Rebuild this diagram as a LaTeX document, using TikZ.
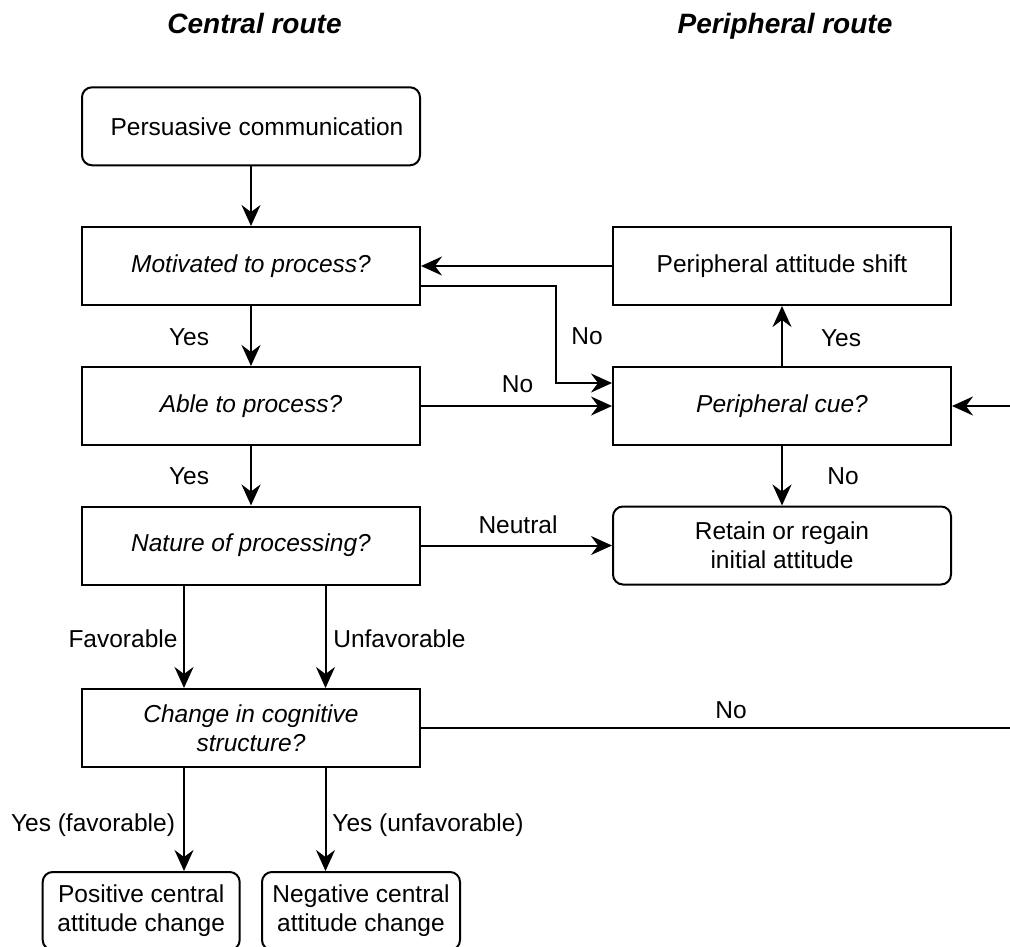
\documentclass[tikz,border=0pt]{standalone}
\usepackage{fontspec}
\setmainfont{Liberation Sans}
\usetikzlibrary{arrows.meta,calc}
\begin{document}
\begin{tikzpicture}[x=1pt,y=-1pt,
  every node/.style={font=\fontsize{24.5}{29}\selectfont},
  box/.style={draw, line width=2pt, minimum width=338pt, minimum height=78pt, inner sep=0pt, align=center},
  roundbox/.style={box, rounded corners=10pt},
  question/.style={box, font=\fontsize{24.5}{28.5}\selectfont\itshape},
  heading/.style={font=\fontsize{28}{32}\selectfont\bfseries\itshape, anchor=base, inner sep=0pt},
  lbl/.style={anchor=base, inner sep=0pt},
  link/.style={line width=2pt},
  arr/.style={link, -{Stealth[length=21pt,width=19pt,inset=7pt]}}
]
\useasboundingbox (0,0) rectangle (1010,947);
\clip (0,0) rectangle (1010,947);

% column headings
\node[heading] (hc) at (254.5,33.3) {Central route};
\node[heading] (hp) at (785,33.3) {Peripheral route};

% central route
\node[roundbox] (persuasive) at (251,126.3) {\hspace*{12pt}Persuasive communication};
\node[question] (motivated) at (251,266) {Motivated to process?};
\node[question] (able) at (251,406) {Able to process?};
\node[question] (nature) at (251,545.5) {Nature of processing?};
\node[question] (change) at (251,728) {Change in cognitive\\structure?};
\node[roundbox, minimum width=197pt] (positive) at (141.2,911) {Positive central\\attitude change};
\node[roundbox, minimum width=198pt] (negative) at (361,911) {Negative central\\attitude change};

% peripheral route
\node[box] (shift) at (782,266) {Peripheral attitude shift};
\node[question] (cue) at (782,406) {Peripheral cue?};
\node[roundbox] (retain) at (782,545.5) {Retain or regain\\initial attitude};

% helper points for the bent connectors
\coordinate (fav) at (184,0);
\coordinate (unfav) at (325.5,0);
\coordinate (kink) at (556,383);
\coordinate (far) at (1025,728);

% connectors
\draw[arr] (persuasive) -- (motivated);
\draw[arr] (motivated) -- (able);
\draw[arr] (able) -- (nature);
\draw[arr] (nature.south -| fav) -- (change.north -| fav);
\draw[arr] (nature.south -| unfav) -- (change.north -| unfav);
\draw[arr] (change.south -| fav) -- (positive.north -| fav);
\draw[arr] (change.south -| unfav) -- (negative.north -| unfav);
\draw[arr] (shift.west) -- (motivated.east);
\draw[arr] ([yshift=-20pt]motivated.east) -| (kink) -- ([yshift=23pt]cue.west);
\draw[arr] (able.east) -- (cue.west);
\draw[arr] (cue) -- (shift);
\draw[arr] (cue) -- (retain);
\draw[arr] (nature.east) -- (retain.west);
\draw[arr] (change.east) -- (far) |- (cue.east);

% connector labels
\node[lbl] (l1) at (189,345) {Yes};
\node[lbl] (l2) at (189,484) {Yes};
\node[lbl] (l3) at (587,344) {No};
\node[lbl] (l4) at (517.5,392) {No};
\node[lbl] (l5) at (841,346) {Yes};
\node[lbl] (l6) at (843,484) {No};
\node[lbl] (l7) at (518,533) {Neutral};
\node[lbl] (l8) at (123,647) {Favorable};
\node[lbl] (l9) at (399.4,647) {Unfavorable};
\node[lbl] (l10) at (731,718) {No};
\node[lbl] (l11) at (93,831) {Yes (favorable)};
\node[lbl] (l12) at (428,831) {Yes (unfavorable)};
\end{tikzpicture}
\end{document}
